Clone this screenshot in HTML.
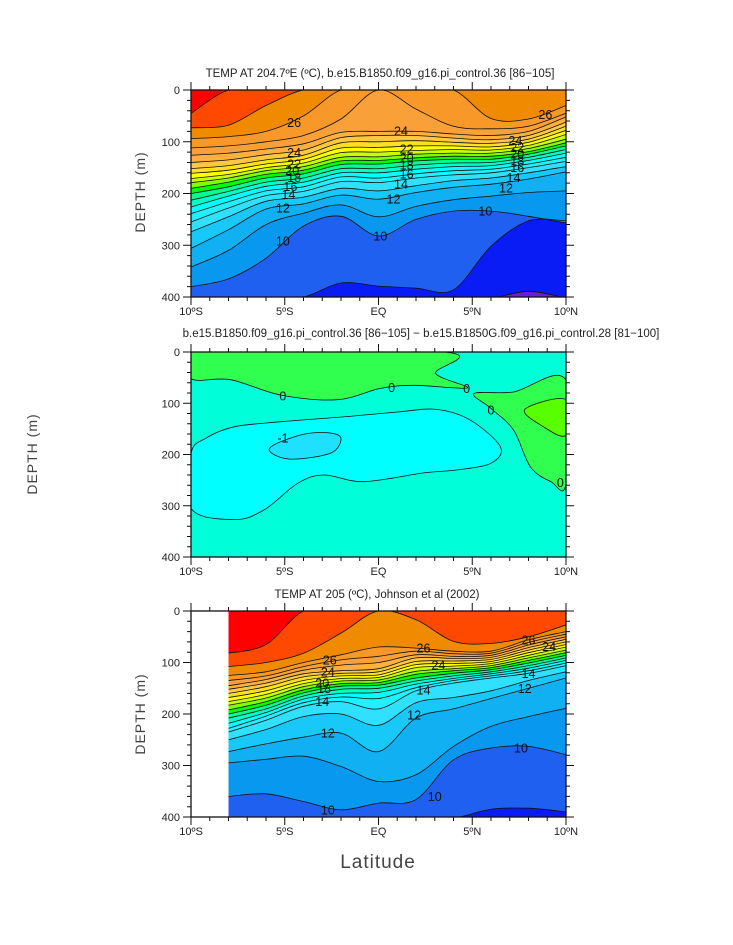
<!DOCTYPE html>
<html><head><meta charset="utf-8">
<style>
html,body{margin:0;padding:0;background:#fff;}
svg{display:block;font-family:"Liberation Sans",sans-serif;}
</style></head>
<body>
<svg id="fig" width="733" height="945" viewBox="0 0 733 945" xmlns="http://www.w3.org/2000/svg">
<rect x="0" y="0" width="733" height="945" fill="#fff"/>
<defs>
<clipPath id="c1"><rect x="191" y="90" width="375" height="207"/></clipPath>
<clipPath id="c2"><rect x="191" y="352" width="375" height="205"/></clipPath>
<clipPath id="c3"><rect x="228.5" y="611" width="337.5" height="206"/></clipPath>
</defs>
<text x="380" y="77" text-anchor="middle" font-size="11.5" fill="#222">TEMP AT 204.7ºE (ºC), b.e15.B1850.f09_g16.pi_control.36 [86−105]</text>
<text x="421" y="337" text-anchor="middle" font-size="11.5" fill="#222">b.e15.B1850.f09_g16.pi_control.36 [86−105] − b.e15.B1850G.f09_g16.pi_control.28 [81−100]</text>
<text x="377" y="598" text-anchor="middle" font-size="11.5" fill="#222">TEMP AT 205 (ºC), Johnson et al (2002)</text>
<text transform="translate(145,192) rotate(-90)" text-anchor="middle" font-size="14" fill="#444" letter-spacing="1">DEPTH (m)</text>
<text transform="translate(37,454) rotate(-90)" text-anchor="middle" font-size="14" fill="#444" letter-spacing="1">DEPTH (m)</text>
<text transform="translate(145,714) rotate(-90)" text-anchor="middle" font-size="14" fill="#444" letter-spacing="1">DEPTH (m)</text>
<text x="378" y="868" text-anchor="middle" font-size="19" fill="#444" letter-spacing="1">Latitude</text>
</svg>
<script>
// ---------- data: panel 1 (model temperature) ----------
const lats1 = [-10,-8,-6,-4,-2,0,2,4,6,8,10];
const levels1 = [29,28,27,26,25,24,23,22,21,20,19,18,17,16,15,14,13,12,11,10,9,8];
const p1_t29 = [45,0,0,0,0,0,0,0,0,0,0];
const p1_t28 = [73,68,30,0,0,0,0,0,0,0,0];
const p1_t27 = [94,90,80,50,0,0,0,0,55,56,30];
const p1_t26 = [112,108,100,88,56,0,37,70,75,70,45];
const p1_t25 = [126,122,114,104,82,80,80,85,88,80,52];
const p1_t24 = [140,135,125,116,92,88,88,93,96,88,62];
const p1_t23 = [152,146,135,126,102,100,98,101,103,95,70];
const p1_t22 = [161,155,143,134,112,111,108,108,110,101,78];
const p1_t21 = [171,163,150,141,121,120,117,115,116,107,86];
const p1_t20 = [179,170,156,148,130,129,124,122,122,113,95];
const p1_t19 = [190,178,163,155,137,136,131,128,128,119,102];
const p1_t18 = [200,187,170,162,144,143,137,134,134,124,108];
const p1_t17 = [213,196,178,170,152,152,145,141,140,130,115];
const p1_t16 = [226,205,186,178,160,160,153,148,146,136,122];
const p1_t15 = [239,216,195,187,168,170,162,156,153,143,130];
const p1_t14 = [255,228,204,196,177,179,170,164,160,150,138];
const p1_t13 = [274,245,215,207,190,195,185,175,170,160,148];
const p1_t12 = [306,270,230,220,203,211,198,188,182,172,158];
const p1_t11 = [342,310,260,238,222,245,225,212,205,198,195];
const p1_t10 = [380,365,325,263,244,282,250,234,234,244,257];
const p1_t9 = [402,402,402,400,373,379,383,386,302,253,253];
const p1_t8 = [402,402,402,402,402,402,402,402,402,389,402];
const p1Iso = [p1_t29,p1_t28,p1_t27,p1_t26,p1_t25,p1_t24,p1_t23,p1_t22,p1_t21,p1_t20,p1_t19,p1_t18,p1_t17,p1_t16,p1_t15,p1_t14,p1_t13,p1_t12,p1_t11,p1_t10,p1_t9,p1_t8];
const p1LabelLat = [-4.5,1.2,8.9,-4.5,-4.5,-4.6,-4.5,-4.7,-4.8,-5.1,-5.1,1.5,1.5,1.5,1.5,1.2,0.8,0.1,7.3,7.4,7.4,7.4,7.4,7.2,6.8,5.7];
const p1LabelDepth = [63,79,47,121,143,156,169,186,202,228,292,114,131,145,162,182,211,282,98,111,124,137,150,169,189,234];
const p1LabelText = ["26","24","26","24","22","20","18","16","14","12","10","22","20","18","16","14","12","10","24","22","20","18","16","14","12","10"];

// ---------- data: panel 3 (observations) ----------
const lats3 = [-8,-6,-4,-2,0,2,4,6,8,10];
const levels3 = [29,28,27,26,25,24,23,22,21,20,19,18,17,16,15,14,13,12,11,10,9];
const p3_t29 = [82,65,0,0,0,0,0,0,0,0];
const p3_t28 = [108,100,82,43,0,17,59,63,50,27];
const p3_t27 = [125,118,100,85,70,72,78,78,56,40];
const p3_t26 = [135,126,108,95,88,78,83,82,61,45];
const p3_t25 = [145,133,115,105,100,85,88,86,66,50];
const p3_t24 = [152,140,122,116,112,91,92,90,71,55];
const p3_t23 = [160,147,128,121,118,98,97,94,76,60];
const p3_t22 = [168,155,135,126,124,104,102,98,81,65];
const p3_t21 = [176,162,141,131,129,110,107,102,86,70];
const p3_t20 = [183,169,147,136,134,117,112,106,91,76];
const p3_t19 = [192,176,153,141,139,123,116,110,96,81];
const p3_t18 = [200,183,159,146,144,130,121,114,101,86];
const p3_t17 = [208,190,165,152,150,136,126,118,106,91];
const p3_t16 = [218,197,171,160,158,142,131,122,111,96];
const p3_t15 = [228,204,178,167,170,149,135,126,116,101];
const p3_t14 = [235,212,185,176,190,155,140,130,121,106];
const p3_t13 = [250,230,205,200,222,178,168,155,135,118];
const p3_t12 = [273,258,245,237,273,208,190,170,150,130];
const p3_t11 = [295,288,282,302,331,318,263,224,205,189];
const p3_t10 = [360,355,370,386,373,366,289,266,263,279];
const p3_t9 = [402,402,402,402,402,402,402,385,383,390];
const p3Iso = [p3_t29,p3_t28,p3_t27,p3_t26,p3_t25,p3_t24,p3_t23,p3_t22,p3_t21,p3_t20,p3_t19,p3_t18,p3_t17,p3_t16,p3_t15,p3_t14,p3_t13,p3_t12,p3_t11,p3_t10,p3_t9];
const p3LabelLat = [-2.6,-2.7,-3.0,-2.9,-3.0,-2.7,-2.7,2.4,3.2,2.4,1.9,3.0,8.0,9.1,8.0,7.8,7.6];
const p3LabelDepth = [95,118,140,150,176,237,386,72,105,153,202,360,56,69,121,150,266];
const p3LabelText = ["26","24","20","18","14","12","10","26","24","14","12","10","26","24","14","12","10"];

// ---------- data: panel 2 (difference) ----------
const p2GreenLat = [-10,3.5,3.05,4.74,1.9,0.1,-2.2,-5.2,-7.9,-10];
const p2GreenDepth = [0,0,42,70,65,71,93,84,54,52];
const p2GreenRLat = [5.1,7.2,10,10,9.2,8.1,7.2,6.0];
const p2GreenRDepth = [81,78,55,256,253,224,152,110];
const p2BrightLat = [7.8,10,10,8.8];
const p2BrightDepth = [112,93,162,146];
const p2CyanLat = [-10,-9.2,-7.7,-5.2,-1.7,1.0,3.1,4.9,6.5,6.0,4.2,2.4,-0.8,-2.9,-4.3,-6.1,-7.7,-10];
const p2CyanDepth = [198,168,146,136,126,117,112,133,185,217,230,236,253,240,256,308,327,305];
const p2BlueLat = [-5.8,-5.4,-3.8,-2.4,-2.0,-2.6,-4.7];
const p2BlueDepth = [194,178,159,159,172,198,209];
const p2LabelLat = [-5.1,0.7,4.7,6.0,9.7,-5.1];
const p2LabelDepth = [86,69,71,113,255,168];
const p2LabelText = ["0","0","0","0","0","-1"];

// ---------- axis tick labels ----------
const xTickLats = [-10,-5,0,5,10];
const xTickText = ["10ºS","5ºS","EQ","5ºN","10ºN"];
const yTickDepths = [0,100,200,300,400];

// ---------- styles ----------
const bandColor = {7:"#6a1fd6",8:"#0a1cf5",9:"#1f60f0",10:"#0898f0",11:"#10b0f2",12:"#18c8f8",13:"#30e0ff",14:"#20f0ff",15:"#00ffff",16:"#00ffc8",17:"#00ff90",18:"#00ff00",19:"#80ff00",20:"#c8ff00",21:"#ffff00",22:"#ffe020",23:"#ffc840",24:"#fcb040",25:"#faa038",26:"#f89828",27:"#f08a00",28:"#ff4800",29:"#ff0000"};
const P1 = {x0:191,x1:566,y0:90,y1:297,clip:"c1"};
const P2 = {x0:191,x1:566,y0:352,y1:557,clip:"c2"};
const P3 = {x0:191,x1:566,y0:611,y1:817,clip:"c3"};

const NS = "http://www.w3.org/2000/svg";
const svg = document.getElementById("fig");
function mk(tag, attrs, parent){ const e=document.createElementNS(NS,tag); for(const k in attrs) e.setAttribute(k,attrs[k]); (parent||svg).appendChild(e); return e; }
function xS(lat,P){ return P.x0 + (lat+10)/20*(P.x1-P.x0); }
function yS(d,P){ return P.y0 + d/400*(P.y1-P.y0); }
function crSeg(pts, closed){
  let s=""; const n=pts.length;
  const get=i=> closed ? pts[(i+n)%n] : pts[Math.max(0,Math.min(n-1,i))];
  const last = closed ? n : n-1;
  for(let i=0;i<last;i++){
    const p0=get(i-1),p1=get(i),p2=get(i+1),p3=get(i+2);
    const c1=[p1[0]+(p2[0]-p0[0])/6, p1[1]+(p2[1]-p0[1])/6];
    const c2=[p2[0]-(p3[0]-p1[0])/6, p2[1]-(p3[1]-p1[1])/6];
    s+=` C${c1[0].toFixed(1)},${c1[1].toFixed(1)} ${c2[0].toFixed(1)},${c2[1].toFixed(1)} ${p2[0].toFixed(1)},${p2[1].toFixed(1)}`;
  }
  return s;
}
function blob(lats,depths,P){ const pts=lats.map((l,i)=>[xS(l,P),yS(depths[i],P)]); return `M${pts[0][0].toFixed(1)},${pts[0][1].toFixed(1)}`+crSeg(pts,true)+" Z"; }

function drawContours(P, lats, levels, iso, prefix){
  const g = mk("g",{"clip-path":`url(#${P.clip})`});
  
  
  const minL = levels[levels.length-1];
  const bg = mk("rect",{x:xS(lats[0],P),y:P.y0,width:xS(lats[lats.length-1],P)-xS(lats[0],P),height:P.y1-P.y0,fill:bandColor[minL-1]},g);
  
  
  for(let k=levels.length-1;k>=0;k--){
    const pts = lats.map((l,i)=>[xS(l,P),yS(iso[k][i],P)]);
    const xa=xS(lats[0],P), xb=xS(lats[lats.length-1],P);
    const d=`M${xa},${P.y0-5} L${pts[0][0].toFixed(1)},${pts[0][1].toFixed(1)}`+crSeg(pts,false)+` L${xb},${P.y0-5} Z`;
    const band = mk("path",{d:d,fill:bandColor[levels[k]],stroke:"none"},g);
    
    
  }
  for(let k=0;k<levels.length;k++){
    const pts = lats.map((l,i)=>[xS(l,P),yS(iso[k][i],P)]);
    const ln = mk("path",{d:`M${pts[0][0].toFixed(1)},${pts[0][1].toFixed(1)}`+crSeg(pts,false),fill:"none",stroke:"#111","stroke-width":"0.8"},g);
    
    
  }
}
function drawLabels(P, la, de, tx, prefix){
  for(let i=0;i<la.length;i++){
    const t = mk("text",{x:xS(la[i],P),y:yS(de[i],P)+4.5,"text-anchor":"middle","font-size":"12.5",fill:"#111"});
    t.textContent = tx[i];
    
    
  }
}
function drawAxes(P, prefix){
  const fr = mk("rect",{x:P.x0,y:P.y0,width:P.x1-P.x0,height:P.y1-P.y0,fill:"none",stroke:"#111","stroke-width":"1.3"});
  
  
  let d="";
  for(let lat=-10;lat<=10;lat++){
    const x=xS(lat,P), L=(lat%5===0)?8:4;
    d+=`M${x},${P.y1} v${L} M${x},${P.y0} v${-L} `;
  }
  for(let dep=0;dep<=400;dep+=20){
    const y=yS(dep,P), L=(dep%100===0)?8:4;
    d+=`M${P.x0},${y} h${-L} M${P.x1},${y} h${L} `;
  }
  const tk = mk("path",{d:d,stroke:"#111","stroke-width":"1",fill:"none"});
  
  
  xTickLats.forEach((lat,i)=>{
    const t=mk("text",{x:xS(lat,P),y:P.y1+18,"text-anchor":"middle","font-size":"11",fill:"#222"});
    t.textContent=xTickText[i];
    
    
  });
  yTickDepths.forEach(dep=>{
    const t=mk("text",{x:P.x0-11,y:yS(dep,P)+4,"text-anchor":"end","font-size":"11",fill:"#222"});
    t.textContent=String(dep);
    
    
  });
}

// panel 1
drawContours(P1, lats1, levels1, p1Iso, "panel1");
drawLabels(P1, p1LabelLat, p1LabelDepth, p1LabelText, "panel1");
drawAxes(P1, "panel1");

// panel 2
(function(){
  const g = mk("g",{"clip-path":"url(#c2)"});
  
  
  const bg = mk("rect",{x:P2.x0,y:P2.y0,width:P2.x1-P2.x0,height:P2.y1-P2.y0,fill:"#00ffd8"},g);
  
  
  const a = mk("path",{d:blob(p2GreenLat,p2GreenDepth,P2),fill:"#30ff50",stroke:"#111","stroke-width":"0.8"},g);
  
  
  const b = mk("path",{d:blob(p2GreenRLat,p2GreenRDepth,P2),fill:"#30ff50",stroke:"#111","stroke-width":"0.8"},g);
  
  
  const c = mk("path",{d:blob(p2BrightLat,p2BrightDepth,P2),fill:"#58ff00",stroke:"#111","stroke-width":"0.8"},g);
  
  
  const e = mk("path",{d:blob(p2CyanLat,p2CyanDepth,P2),fill:"#00ffff",stroke:"#111","stroke-width":"0.8"},g);
  
  
  const f = mk("path",{d:blob(p2BlueLat,p2BlueDepth,P2),fill:"#20e0ff",stroke:"#111","stroke-width":"0.8"},g);
  
  
})();
drawLabels(P2, p2LabelLat, p2LabelDepth, p2LabelText, "panel2");
drawAxes(P2, "panel2");

// panel 3
drawContours(P3, lats3, levels3, p3Iso, "panel3");
drawLabels(P3, p3LabelLat, p3LabelDepth, p3LabelText, "panel3");
drawAxes(P3, "panel3");
</script>
</body></html>
